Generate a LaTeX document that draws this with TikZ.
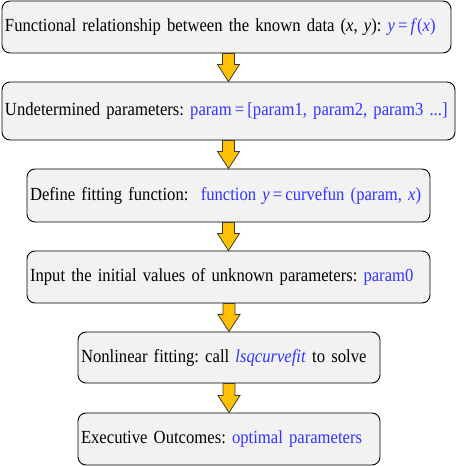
\documentclass[tikz,border=0pt]{standalone}
\usepackage{fontspec}
\setmainfont[FakeStretch=0.9,WordSpace=0.75]{Liberation Serif}
\usepackage{xcolor}
\usetikzlibrary{calc}
\definecolor{boxgray}{RGB}{242, 242, 242}
\definecolor{fitblue}{RGB}{51, 51, 255}
\definecolor{flowgold}{RGB}{255, 192, 0}
\definecolor{edgegray}{RGB}{60, 60, 60}
\tikzset{
  stepbox/.style={draw, fill=boxgray, line width=0.9pt, rounded corners=8pt,
    minimum height=52pt, inner xsep=3pt, align=left,
    font=\fontsize{18.5}{22}\selectfont\frenchspacing,
    execute at begin node=\hbox\bgroup, execute at end node=\egroup},
  flowarrow/.style={draw=edgegray, fill=flowgold, line width=0.8pt, line join=miter}
}
\begin{document}
\begin{tikzpicture}[x=1pt,y=-1pt]
\useasboundingbox (0,0) rectangle (457,466);
\node[stepbox,text width=443pt] (fun) at (226.5,27) {Functional relationship between the known data (\textit{x}, \textit{y}): \textcolor{fitblue}{\textit{y}\,=\,\textit{f}(\textit{x})}};
\node[stepbox,text width=447pt,minimum height=58pt] (par) at (228.5,111) {Undetermined parameters: \textcolor{fitblue}{param\,=\,[param1, param2, param3 ...]}};
\node[stepbox,text width=397pt,minimum height=53pt] (def) at (228.5,195.5) {Define fitting function: \ \textcolor{fitblue}{function \textit{y}\,=\,curvefun (param, \textit{x})}};
\node[stepbox,text width=397pt] (ini) at (228.5,277) {Input the initial values of unknown parameters: \textcolor{fitblue}{param0}};
\node[stepbox,text width=296pt,minimum height=51pt] (fit) at (229,357.5) {Nonlinear fitting: call \textcolor{fitblue}{\textit{lsqcurvefit}} to solve};
\node[stepbox,text width=296pt] (out) at (229,439) {Executive Outcomes: \textcolor{fitblue}{optimal parameters}};
% block arrows between the steps
\foreach \a/\b in {fun/par,par/def,def/ini,ini/fit,fit/out}
  \draw[flowarrow] ($(\b.north |- \a.south)+(-6,0)$) -- ($(\b.north)+(-6,-17)$)
    -- ($(\b.north)+(-11,-17)$) -- (\b.north) -- ($(\b.north)+(11,-17)$)
    -- ($(\b.north)+(6,-17)$) -- ($(\b.north |- \a.south)+(6,0)$) -- cycle;
\end{tikzpicture}
\end{document}
